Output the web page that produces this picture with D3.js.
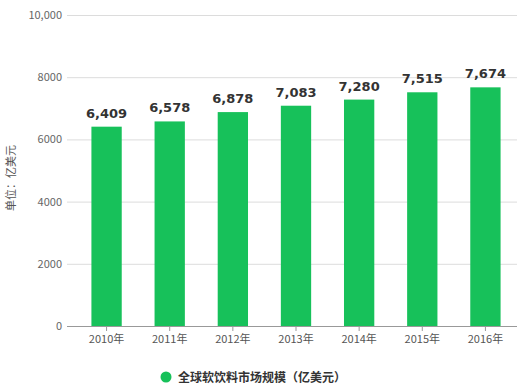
<!DOCTYPE html>
<html>
<head>
<meta charset="utf-8">
<script src="https://cdn.jsdelivr.net/npm/d3@7"></script>
<style>
  body { margin: 0; background: #fff; }
  text { font-family: "Microsoft YaHei", "Noto Sans CJK SC", sans-serif; }
</style>
</head>
<body>
<div id="body"></div>
<script>
// data
const years = ["2010年", "2011年", "2012年", "2013年", "2014年", "2015年", "2016年"];
const values = [6409, 6578, 6878, 7083, 7280, 7515, 7674];
const yTicks = [0, 2000, 4000, 6000, 8000, 10000];
const seriesName = "全球软饮料市场规模（亿美元）";
const unitLabel = "单位：亿美元";

const wwidth = 528, hheight = 386;
const green = "#17c15a";

var svg = d3.select("#body").append("svg")
  .attr("width", wwidth).attr("height", hheight);

// scales
var xScale = d3.scaleBand().domain(years).range([75, 517]).paddingInner(0.52).paddingOuter(0.26);
var yScale = d3.scaleLinear().domain([0, 10000]).range([326, 15]);

// grid lines
svg.append("g").selectAll("line").data(yTicks.slice(1)).enter().append("line")
  .attr("x1", 67).attr("x2", 517)
  .attr("y1", d => yScale(d) + 0.5).attr("y2", d => yScale(d) + 0.5)
  .attr("stroke", "#dcdcdc");

// y axis labels
var yAxis = d3.axisLeft(yScale).tickValues(yTicks).tickSize(0).tickPadding(0)
  .tickFormat(d => d >= 10000 ? d3.format(",")(d) : d);
var gy = svg.append("g").attr("transform", "translate(62,0)").call(yAxis);
gy.select(".domain").remove();
gy.selectAll("text").attr("fill", "#666").style("font-size", "11px");

// x axis
var xAxis = d3.axisBottom(xScale).tickSize(5).tickPadding(4);
var gx = svg.append("g").attr("transform", "translate(0,326)").call(xAxis);
gx.select(".domain").attr("d", "M67,0.5H517").attr("stroke", "#999");
gx.selectAll(".tick line").attr("stroke", "#999");
gx.selectAll("text").attr("fill", "#555").style("font-size", "11px");

// bars
svg.append("g").selectAll("rect").data(values).enter().append("rect")
  .attr("x", (d, i) => xScale(years[i]))
  .attr("width", xScale.bandwidth())
  .attr("y", d => yScale(d))
  .attr("height", d => yScale(0) - yScale(d))
  .attr("fill", green);

// value labels
svg.append("g").selectAll("text").data(values).enter().append("text")
  .attr("x", (d, i) => xScale(years[i]) + xScale.bandwidth() / 2)
  .attr("y", d => yScale(d) - 9)
  .attr("text-anchor", "middle")
  .attr("fill", "#333")
  .style("font-family", "'DejaVu Sans', sans-serif")
  .style("font-size", "13px")
  .style("font-weight", "bold")
  .text(d => d3.format(",")(d));

// y unit label
svg.append("text")
  .attr("transform", "translate(15,178) rotate(-90)")
  .attr("text-anchor", "middle")
  .attr("fill", "#555")
  .style("font-size", "11px")
  .text(unitLabel);

// legend
svg.append("circle").attr("cx", 166).attr("cy", 377).attr("r", 5.5).attr("fill", green);
svg.append("text")
  .attr("x", 178).attr("y", 382)
  .attr("fill", "#333")
  .style("font-size", "12px")
  .style("font-weight", "bold")
  .text(seriesName);
</script>
</body>
</html>
